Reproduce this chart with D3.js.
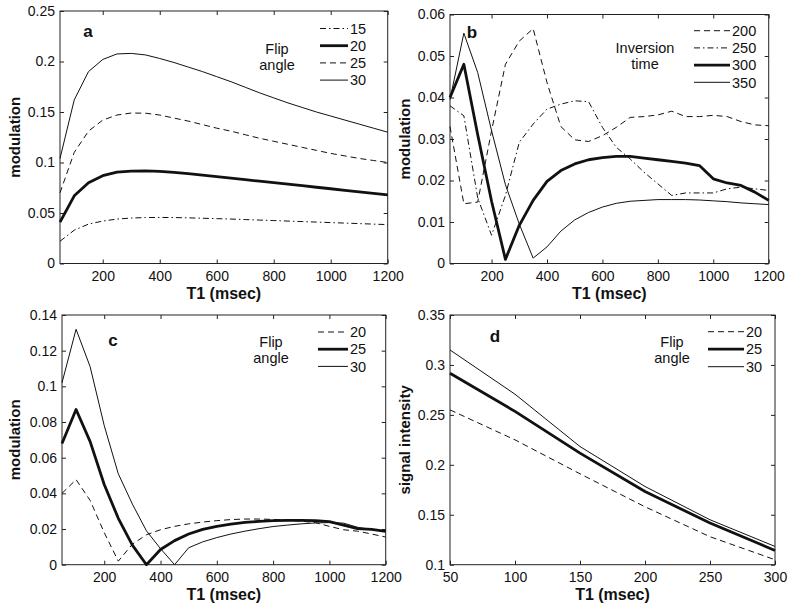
<!DOCTYPE html>
<html>
<head>
<meta charset="utf-8">
<script src="https://cdn.jsdelivr.net/npm/d3@7"></script>
<style>
    body { margin: 0; background: #fff; }
    svg { display: block; font-family: 'Liberation Sans', Arial, sans-serif; }
    .tick text { font-size: 14px; fill: #111; }
    .axis-title { font-size: 15px; font-weight: bold; fill: #111; }
    .x-title { font-size: 16px; }
    .panel-letter { font-size: 17px; font-weight: bold; fill: #111; }
    .legend-text { font-size: 14.5px; fill: #111; }
</style>
</head>
<body>
<svg id="chart" width="800" height="609"></svg>
<script>
// T1 values (msec)
const t1Long = [50, 100, 150, 200, 250, 300, 350, 400, 450, 500, 550, 600,
    650, 700, 750, 800, 850, 900, 950, 1000, 1050, 1100, 1150, 1200];
const t1Short = [50, 100, 150, 200, 250, 300];

// panel a: modulation vs T1 for flip angles
const aFlip15 = [0.022, 0.033, 0.039, 0.042, 0.044, 0.045, 0.0455, 0.0456, 0.0455, 0.0452, 0.0448, 0.0444,
    0.044, 0.0435, 0.043, 0.0425, 0.042, 0.0415, 0.041, 0.0405, 0.040, 0.0395, 0.039, 0.0385];
const aFlip20 = [0.041, 0.067, 0.080, 0.087, 0.0905, 0.0915, 0.0918, 0.0912, 0.0902, 0.089, 0.0875, 0.086,
    0.0845, 0.083, 0.0815, 0.080, 0.0785, 0.077, 0.0755, 0.074, 0.0725, 0.071, 0.0695, 0.068];
const aFlip25 = [0.070, 0.110, 0.131, 0.142, 0.147, 0.149, 0.1488, 0.147, 0.144, 0.141, 0.1375, 0.134,
    0.131, 0.1275, 0.124, 0.121, 0.118, 0.115, 0.112, 0.109, 0.1065, 0.104, 0.102, 0.100];
const aFlip30 = [0.104, 0.162, 0.190, 0.202, 0.2075, 0.208, 0.2065, 0.203, 0.199, 0.1945, 0.190, 0.185,
    0.180, 0.1745, 0.169, 0.164, 0.159, 0.1545, 0.150, 0.146, 0.142, 0.138, 0.134, 0.130];

// panel b: modulation vs T1 for inversion times
const bInv200 = [0.033, 0.0144, 0.0148, 0.032, 0.048, 0.0536, 0.0566, 0.0436, 0.033, 0.0298, 0.0294, 0.0308,
    0.0328, 0.0352, 0.0354, 0.0358, 0.0367, 0.0354, 0.0354, 0.0357, 0.0354, 0.0342, 0.0334, 0.0332];
const bInv250 = [0.038, 0.0356, 0.0158, 0.0068, 0.0164, 0.0292, 0.0336, 0.0372, 0.0384, 0.0392, 0.039, 0.0328,
    0.028, 0.0252, 0.022, 0.0192, 0.0164, 0.017, 0.017, 0.017, 0.018, 0.0184, 0.018, 0.0176];
const bInv300 = [0.040, 0.048, 0.031, 0.015, 0.001, 0.0092, 0.0152, 0.0198, 0.0224, 0.024, 0.025, 0.0255,
    0.0258, 0.0258, 0.0254, 0.025, 0.0246, 0.0242, 0.0236, 0.0204, 0.0194, 0.0188, 0.0172, 0.0152];
const bInv350 = [0.0395, 0.0555, 0.046, 0.032, 0.019, 0.0095, 0.0013, 0.004, 0.0078, 0.0105, 0.0123, 0.0136,
    0.0145, 0.015, 0.0152, 0.0154, 0.0154, 0.0154, 0.0153, 0.0151, 0.0149, 0.0146, 0.0144, 0.0142];

// panel c: modulation vs T1 for flip angles
const cFlip20 = [0.040, 0.0477, 0.036, 0.018, 0.002, 0.0115, 0.0168, 0.0196, 0.0215, 0.0229, 0.0239, 0.0247,
    0.0253, 0.0256, 0.0256, 0.0254, 0.025, 0.0244, 0.0236, 0.0215, 0.0196, 0.0188, 0.0172, 0.0155];
const cFlip25 = [0.068, 0.087, 0.069, 0.045, 0.026, 0.011, 0.0, 0.0085, 0.0135, 0.0172, 0.0198, 0.0215,
    0.0228, 0.0237, 0.0243, 0.0247, 0.0249, 0.0249, 0.0247, 0.0242, 0.0222, 0.0202, 0.0198, 0.0187];
const cFlip30 = [0.102, 0.132, 0.111, 0.078, 0.051, 0.034, 0.019, 0.009, 0.0, 0.0095, 0.0128, 0.0152,
    0.0172, 0.0188, 0.0202, 0.0214, 0.0222, 0.0229, 0.0234, 0.0236, 0.0233, 0.021, 0.0196, 0.0188];

// panel d: signal intensity vs T1 for flip angles
const dFlip20 = [0.255, 0.225, 0.191, 0.158, 0.128, 0.105];
const dFlip25 = [0.2917, 0.2535, 0.2117, 0.1733, 0.1417, 0.1143];
const dFlip30 = [0.315, 0.2707, 0.2183, 0.1783, 0.145, 0.1183];

// tick values
const xTicksLong = [200, 400, 600, 800, 1000, 1200];
const xTicksShort = [50, 100, 150, 200, 250, 300];
const aYTicks = [0, 0.05, 0.1, 0.15, 0.2, 0.25];
const bYTicks = [0, 0.01, 0.02, 0.03, 0.04, 0.05, 0.06];
const cYTicks = [0, 0.02, 0.04, 0.06, 0.08, 0.1, 0.12, 0.14];
const dYTicks = [0.1, 0.15, 0.2, 0.25, 0.3, 0.35];

// line styles
const styles = {
    thin: { width: 1, dash: null },
    thick: { width: 2.8, dash: null },
    dashed: { width: 1, dash: '6,4' },
    dashdot: { width: 1, dash: '6,3,1.5,3' }
};

const svg = d3.select('#chart');

function drawPanel(cfg) {
    const w = cfg.right - cfg.left;
    const h = cfg.bottom - cfg.top;

    const x = d3.scaleLinear().domain(cfg.xDomain).range([0, w]);
    const y = d3.scaleLinear().domain(cfg.yDomain).range([h, 0]);

    const g = svg.append('g')
        .attr('transform', `translate(${cfg.left}, ${cfg.top})`);

    // axes with inward ticks (matlab style)
    const fmt = d3.format('');
    g.append('g')
        .attr('transform', `translate(0, ${h})`)
        .call(d3.axisBottom(x).tickValues(cfg.xTicks).tickSizeInner(-4).tickSizeOuter(0).tickFormat(fmt))
        .call(a => a.select('.domain').remove())
        .call(a => a.selectAll('.tick text').attr('dy', '0.71em').attr('y', 7.5));

    g.append('g')
        .call(d3.axisLeft(y).tickValues(cfg.yTicks).tickSizeInner(-4).tickSizeOuter(0).tickFormat(fmt))
        .call(a => a.select('.domain').remove())
        .call(a => a.selectAll('.tick text').attr('x', -5));

    g.append('g')
        .call(d3.axisTop(x).tickValues(cfg.xTicks).tickSizeInner(-4).tickSizeOuter(0).tickFormat(''))
        .call(a => a.select('.domain').remove());

    g.append('g')
        .attr('transform', `translate(${w}, 0)`)
        .call(d3.axisRight(y).tickValues(cfg.yTicks).tickSizeInner(-4).tickSizeOuter(0).tickFormat(''))
        .call(a => a.select('.domain').remove());

    g.selectAll('.tick line').attr('stroke', '#222');

    // frame
    g.append('rect')
        .attr('width', w)
        .attr('height', h)
        .attr('fill', 'none')
        .attr('stroke', '#222')
        .attr('stroke-width', 1);

    // lines
    const line = d3.line()
        .x(d => x(d[0]))
        .y(d => y(d[1]));

    cfg.series.forEach(s => {
        const st = styles[s.style];
        g.append('path')
            .datum(cfg.xs.map((v, i) => [v, s.values[i]]))
            .attr('fill', 'none')
            .attr('stroke', '#111')
            .attr('stroke-width', st.width)
            .attr('stroke-dasharray', st.dash)
            .attr('stroke-linejoin', 'round')
            .attr('d', line);
    });

    // axis titles
    g.append('text')
        .attr('class', 'axis-title x-title')
        .attr('x', w / 2)
        .attr('y', h + 35)
        .attr('text-anchor', 'middle')
        .text('T1 (msec)');

    g.append('text')
        .attr('class', 'axis-title')
        .attr('transform', `translate(${cfg.yTitleX - cfg.left}, ${h / 2}) rotate(-90)`)
        .attr('text-anchor', 'middle')
        .text(cfg.yTitle);

    // panel letter
    g.append('text')
        .attr('class', 'panel-letter')
        .attr('x', cfg.letterX - cfg.left)
        .attr('y', cfg.letterY - cfg.top)
        .attr('text-anchor', 'middle')
        .text(cfg.letter);

    // legend
    const lg = cfg.legend;
    cfg.series.forEach((s, i) => {
        const st = styles[s.style];
        const ly = lg.y0 + i * lg.dy - cfg.top;
        g.append('line')
            .attr('x1', lg.x1 - cfg.left)
            .attr('x2', lg.x2 - cfg.left)
            .attr('y1', ly)
            .attr('y2', ly)
            .attr('stroke', '#111')
            .attr('stroke-width', st.width)
            .attr('stroke-dasharray', st.dash);
        g.append('text')
            .attr('class', 'legend-text')
            .attr('x', lg.x2 + 2 - cfg.left)
            .attr('y', ly)
            .attr('dy', '0.36em')
            .text(s.name);
    });
    lg.title.forEach((t, i) => {
        g.append('text')
            .attr('class', 'legend-text')
            .attr('x', lg.titleX - cfg.left)
            .attr('y', lg.titleY + i * 16.5 - cfg.top)
            .attr('dy', '0.36em')
            .attr('text-anchor', 'middle')
            .text(t);
    });
}

drawPanel({
    left: 60, right: 387.7, top: 11, bottom: 263.5,
    xDomain: [50, 1200], yDomain: [0, 0.25],
    xTicks: xTicksLong, yTicks: aYTicks, xs: t1Long,
    yTitle: 'modulation', yTitleX: 20,
    letter: 'a', letterX: 88, letterY: 37,
    series: [
        { name: '15', values: aFlip15, style: 'dashdot' },
        { name: '20', values: aFlip20, style: 'thick' },
        { name: '25', values: aFlip25, style: 'dashed' },
        { name: '30', values: aFlip30, style: 'thin' }
    ],
    legend: { x1: 320, x2: 348, y0: 28.5, dy: 17.2, title: ['Flip', 'angle'], titleX: 277, titleY: 48.5 }
});

drawPanel({
    left: 450, right: 768.7, top: 14.5, bottom: 263.5,
    xDomain: [50, 1200], yDomain: [0, 0.06],
    xTicks: xTicksLong, yTicks: bYTicks, xs: t1Long,
    yTitle: 'modulation', yTitleX: 410,
    letter: 'b', letterX: 472, letterY: 38,
    series: [
        { name: '200', values: bInv200, style: 'dashed' },
        { name: '250', values: bInv250, style: 'dashdot' },
        { name: '300', values: bInv300, style: 'thick' },
        { name: '350', values: bInv350, style: 'thin' }
    ],
    legend: { x1: 694, x2: 730, y0: 30.7, dy: 17.2, title: ['Inversion', 'time'], titleX: 645, titleY: 47.5 }
});

drawPanel({
    left: 62, right: 385.7, top: 315, bottom: 564.7,
    xDomain: [50, 1200], yDomain: [0, 0.14],
    xTicks: xTicksLong, yTicks: cYTicks, xs: t1Long,
    yTitle: 'modulation', yTitleX: 20,
    letter: 'c', letterX: 113, letterY: 346,
    series: [
        { name: '20', values: cFlip20, style: 'dashed' },
        { name: '25', values: cFlip25, style: 'thick' },
        { name: '30', values: cFlip30, style: 'thin' }
    ],
    legend: { x1: 318, x2: 348, y0: 332, dy: 17.2, title: ['Flip', 'angle'], titleX: 271, titleY: 341.5 }
});

drawPanel({
    left: 450, right: 775, top: 315, bottom: 564.7,
    xDomain: [50, 300], yDomain: [0.1, 0.35],
    xTicks: xTicksShort, yTicks: dYTicks, xs: t1Short,
    yTitle: 'signal intensity', yTitleX: 410,
    letter: 'd', letterX: 495, letterY: 342,
    series: [
        { name: '20', values: dFlip20, style: 'dashed' },
        { name: '25', values: dFlip25, style: 'thick' },
        { name: '30', values: dFlip30, style: 'thin' }
    ],
    legend: { x1: 708, x2: 744, y0: 331.7, dy: 17.5, title: ['Flip', 'angle'], titleX: 672, titleY: 341.7 }
});
</script>
</body>
</html>
